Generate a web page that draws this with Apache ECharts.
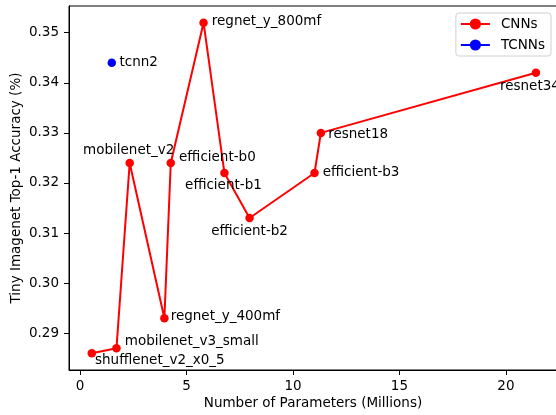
<!DOCTYPE html>
<html>
<head>
<meta charset="utf-8">
<script src="https://cdn.jsdelivr.net/npm/echarts@6/dist/echarts.min.js"></script>
<style>html,body{margin:0;padding:0;background:#fff}#c{width:556px;height:415px}</style>
</head>
<body>
<div id="c"></div>
<script>
// ---- data ----
const cnnNames = ['shufflenet_v2_x0_5','mobilenet_v3_small','mobilenet_v2','regnet_y_400mf','efficient-b0','regnet_y_800mf','efficient-b1','efficient-b2','efficient-b3','resnet18','resnet34'];
const cnnParams = [0.55, 1.71, 2.33, 3.96, 4.26, 5.80, 6.78, 7.96, 11.01, 11.31, 21.41];
const cnnAcc = [0.286, 0.287, 0.324, 0.293, 0.324, 0.352, 0.322, 0.313, 0.322, 0.330, 0.342];
const tcnnNames = ['tcnn2'];
const tcnnParams = [1.49];
const tcnnAcc = [0.344];
const xTicks = [0, 5, 10, 15, 20];
const yTicks = [0.29, 0.30, 0.31, 0.32, 0.33, 0.34, 0.35];

// ---- label placement (style) ----
const labelPlace = {
  'shufflenet_v2_x0_5': {position:'right', distance:-1, offset:[0,7]},
  'mobilenet_v3_small': {position:'right', distance:4, offset:[0,-7]},
  'mobilenet_v2': {position:'top', distance:1, offset:[-1,0]},
  'regnet_y_400mf': {position:'right', distance:2, offset:[0,-1.5]},
  'efficient-b0': {position:'right', distance:4, offset:[0,-5]},
  'regnet_y_800mf': {position:'right', distance:4, offset:[0,-1]},
  'efficient-b1': {position:'bottom', distance:1, offset:[-1,0]},
  'efficient-b2': {position:'bottom', distance:2, offset:[0,0]},
  'efficient-b3': {position:'right', distance:4, offset:[0,0]},
  'resnet18': {position:'right', distance:3, offset:[0,2]},
  'resnet34': {position:'bottom', distance:2, offset:[-6,0]},
  'tcnn2': {position:'right', distance:3.5, offset:[0,0]}
};
const FONT = 'DejaVu Sans';
const FS = 13.5;
function build(names, xs, ys) {
  return names.map((n, i) => ({
    name: n,
    value: [xs[i], ys[i]],
    label: Object.assign({show:true, formatter:n, color:'#000', fontFamily:FONT, fontSize:FS}, labelPlace[n])
  }));
}

const chart = echarts.init(document.getElementById('c'), null, {renderer:'canvas'});
chart.setOption({
  animation: false,
  textStyle: {fontFamily: FONT},
  grid: {left: 69, top: 6, right: -1, bottom: 45, show: true, borderColor: '#000', borderWidth: 1,
    backgroundColor: 'transparent', containLabel: false, outerBoundsMode: 'none'},
  legend: {
    right: 5, top: 13, orient: 'vertical',
    itemWidth: 29, itemHeight: 14, itemGap: 7,
    padding: [4, 6, 4, 4],
    backgroundColor: 'rgba(255,255,255,0.8)', borderColor: '#d0d0d0', borderWidth: 1, borderRadius: 3,
    textStyle: {fontFamily: FONT, fontSize: FS, color: '#000', padding: [0, 0, 0, 6]},
    data: ['CNNs', 'TCNNs']
  },
  xAxis: {
    type: 'value', min: -0.52, max: 22.4,
    name: 'Number of Parameters (Millions)', nameLocation: 'middle', nameGap: 26, nameMoveOverlap: false,
    nameTextStyle: {fontFamily: FONT, fontSize: FS, color: '#000'},
    axisLine: {show: true, onZero: false, lineStyle: {color: '#000', width: 1}},
    axisTick: {show: true, length: 5, lineStyle: {color: '#000'}, customValues: xTicks},
    axisLabel: {show: true, margin: 9, color: '#000', fontFamily: FONT, fontSize: FS, customValues: xTicks},
    splitLine: {show: false}
  },
  yAxis: {
    type: 'value', min: 0.28266, max: 0.35534,
    name: 'Tiny Imagenet Top-1 Accuracy (%)', nameLocation: 'middle', nameGap: 46, nameMoveOverlap: false,
    nameTextStyle: {fontFamily: FONT, fontSize: FS, color: '#000'},
    axisLine: {show: true, onZero: false, lineStyle: {color: '#000', width: 1}},
    axisTick: {show: true, length: 5, lineStyle: {color: '#000'}, customValues: yTicks},
    axisLabel: {show: true, margin: 10, color: '#000', fontFamily: FONT, fontSize: FS, customValues: yTicks,
      formatter: v => v.toFixed(2)},
    splitLine: {show: false}
  },
  series: [
    {
      name: 'CNNs', type: 'line', data: build(cnnNames, cnnParams, cnnAcc),
      symbol: 'circle', symbolSize: 8.5, showAllSymbol: true, clip: false,
      itemStyle: {color: '#ff0000'}, lineStyle: {color: '#ff0000', width: 2}
    },
    {
      name: 'TCNNs', type: 'line', data: build(tcnnNames, tcnnParams, tcnnAcc),
      symbol: 'circle', symbolSize: 8.5, showAllSymbol: true, clip: false,
      itemStyle: {color: '#0000ff'}, lineStyle: {color: '#0000ff', width: 2}
    }
  ]
});
</script>
</body>
</html>
